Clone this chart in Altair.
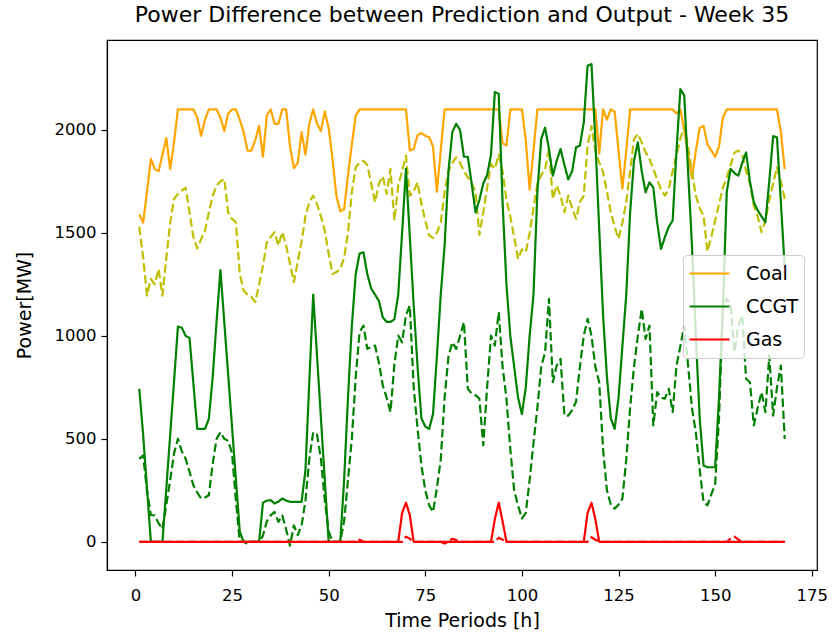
import altair as alt
import pandas as pd

hours = list(range(1, 169))

coal_actual = [
    1590, 1550, 1700, 1860, 1810, 1800, 1880, 1960, 1810, 1940,
    2100, 2100, 2100, 2100, 2100, 2060, 1972, 2050, 2100, 2100,
    2100, 2060, 1995, 2080, 2100, 2100, 2050, 1990, 1900, 1900,
    1950, 2020, 1870, 2070, 2100, 2030, 2030, 2100, 2100, 1920,
    1815, 1840, 1990, 1880, 2030, 2100, 2030, 1995, 2090, 2010,
    1860, 1680, 1605, 1615, 1780, 1930, 2070, 2100, 2100, 2100,
    2100, 2100, 2100, 2100, 2100, 2100, 2100, 2100, 2100, 2100,
    1900, 1908, 1975, 1985, 1972, 1965, 1920, 1700, 1900, 2100,
    2100, 2100, 2100, 2100, 2100, 2100, 2100, 2100, 2100, 2100,
    2100, 2100, 2100, 2100, 1935, 1925, 2100, 2100, 2100, 2100,
    1950, 1710, 1900, 2100, 2100, 2100, 2100, 2100, 2100, 2100,
    2100, 2100, 2100, 2100, 2100, 2100, 2100, 2100, 2100, 1885,
    2100, 2050, 2100, 2090, 1900, 1715, 1900, 2100, 2100, 2100,
    2100, 2100, 2100, 2100, 2100, 2100, 2100, 2100, 2100, 2080,
    2100, 2000, 1880, 1765, 1900, 2010, 2020, 1930, 1900, 1870,
    1920, 2060, 2100, 2100, 2100, 2100, 2100, 2100, 2100, 2100,
    2100, 2100, 2100, 2100, 2100, 2100, 1990, 1810,
]

coal_pred = [
    1530, 1380, 1196, 1277, 1250, 1325, 1196, 1380, 1550, 1665,
    1690, 1705, 1720, 1600, 1480, 1425, 1470, 1510, 1600, 1680,
    1730, 1750, 1762, 1600, 1568, 1552, 1300, 1220, 1200, 1190,
    1164, 1250, 1340, 1455, 1480, 1504, 1439, 1504, 1439, 1350,
    1261, 1360, 1460, 1580, 1650, 1681, 1640, 1580, 1510, 1400,
    1300, 1310, 1325, 1380, 1500, 1700, 1819, 1840, 1851, 1830,
    1740, 1650, 1740, 1775, 1690, 1811, 1560, 1730, 1800, 1875,
    1680, 1700, 1746, 1640, 1560, 1488, 1475, 1500, 1550, 1700,
    1800, 1840, 1867, 1840, 1800, 1770, 1740, 1700, 1490, 1600,
    1720, 1835, 1811, 1880, 1800, 1660, 1580, 1480, 1374, 1420,
    1406, 1500, 1620, 1740, 1780, 1810, 1908, 1665, 1730, 1680,
    1600, 1681, 1620, 1568, 1649, 1681, 1924, 2019, 1900, 1843,
    1795, 1700, 1600, 1530, 1471, 1550, 1650, 1800, 1956, 1981,
    1940, 1891, 1860, 1810, 1760, 1710, 1681, 1713, 1800, 1880,
    1956, 2019, 1920, 1800, 1680, 1620, 1584, 1410, 1480, 1560,
    1640, 1720, 1770, 1830, 1890, 1900, 1880, 1800, 1740, 1632,
    1580, 1504, 1560, 1660, 1740, 1819, 1750, 1665,
]

ccgt_actual = [
    743, 520, 260, 0, 0, 0, 0, 260, 520, 780,
    1045, 1040, 1000, 990, 770, 548, 548, 548, 597, 800,
    1070, 1320, 1066, 812, 558, 304, 50, 0, 0, 0,
    0, 0, 190, 200, 202, 186, 195, 210, 200, 194,
    194, 194, 194, 350, 780, 1200, 900, 600, 300, 0,
    0, 0, 0, 300, 700, 1050, 1300, 1400, 1406, 1300,
    1230, 1200, 1170, 1090, 1068, 1068, 1080, 1200, 1500, 1811,
    1480, 1150, 850, 600, 560, 548, 620, 900, 1200, 1438,
    1800, 1990, 2030, 2000, 1870, 1870, 1740, 1600, 1660, 1740,
    1780, 1880, 2184, 2176, 1650, 1250, 1000, 850, 700, 620,
    750, 1000, 1200, 1700, 1956, 2011, 1908, 1778, 1850, 1908,
    1830, 1760, 1800, 1916, 1924, 2036, 2312, 2320, 1950, 1520,
    1100, 800, 600, 548, 700, 950, 1200, 1600, 1850, 1940,
    1800, 1697, 1746, 1720, 1550, 1422, 1480, 1530, 1560, 1900,
    2199, 2167, 1800, 1438, 1000, 600, 370, 362, 362, 362,
    700, 1131, 1700, 1811, 1790, 1778, 1840, 1891, 1750, 1649,
    1610, 1580, 1552, 1750, 1970, 1964, 1650, 1330,
]

ccgt_pred = [
    403, 420, 250, 130, 128, 90, 63, 180, 300, 430,
    500, 440, 403, 340, 275, 240, 210, 215, 226, 380,
    500, 532, 500, 490, 430, 200, 0, 0, -10, 0,
    0, 0, 30, 100, 128, 145, 97, 128, 60, -19,
    80, 32, 80, 200, 403, 532, 520, 403, 200, 50,
    0, 0, 0, 100, 300, 500, 800, 1018, 1050, 937,
    945, 953, 870, 760, 700, 630, 860, 1001, 969, 1100,
    1147, 750, 550, 371, 250, 177, 145, 260, 400, 700,
    900, 969, 937, 1000, 1067, 743, 720, 712, 695, 468,
    750, 1001, 953, 1115, 850, 695, 450, 250, 177, 113,
    140, 300, 480, 650, 850, 921, 1180, 775, 856, 888,
    613, 613, 640, 680, 850, 1000, 1083, 1001, 850, 775,
    450, 250, 180, 161, 180, 210, 400, 650, 850, 1000,
    1131, 985, 1050, 565, 727, 700, 695, 743, 630, 856,
    950, 1050, 856, 650, 532, 350, 193, 177, 230, 280,
    600, 1150, 1180, 1147, 921, 1050, 1099, 792, 775, 565,
    650, 727, 630, 905, 613, 750, 856, 500,
]

gas_actual = [
    0, 0, 0, 0, 0, 0, 0, 0, 0, 0,
    0, 0, 0, 0, 0, 0, 0, 0, 0, 0,
    0, 0, 0, 0, 0, 0, 0, 0, 0, 0,
    0, 0, 0, 0, 0, 0, 0, 0, 0, 0,
    0, 0, 0, 0, 0, 0, 0, 0, 0, 0,
    0, 0, 0, 0, 0, 0, 0, 0, 0, 0,
    0, 0, 0, 0, 0, 0, 0, 0, 140, 190,
    130, 0, 0, 0, 0, 0, 0, 0, 0, 0,
    0, 0, 0, 0, 0, 0, 0, 0, 0, 0,
    0, 0, 110, 190, 100, 0, 0, 0, 0, 0,
    0, 0, 0, 0, 0, 0, 0, 0, 0, 0,
    0, 0, 0, 0, 0, 0, 140, 190, 110, 0,
    0, 0, 0, 0, 0, 0, 0, 0, 0, 0,
    0, 0, 0, 0, 0, 0, 0, 0, 0, 0,
    0, 0, 0, 0, 0, 0, 0, 0, 0, 0,
    0, 0, 0, 0, 0, 0, 0, 0, 0, 0,
    0, 0, 0, 0, 0, 0, 0, 0,
]

gas_pred = [
    0, 0, 0, 0, 0, 0, 0, 0, 0, 0,
    0, 0, 0, 0, 0, 0, 0, 0, 0, 0,
    0, 0, 0, 0, 0, 0, 0, 0, 0, 0,
    0, 0, 0, 0, 0, 0, 0, 0, 0, 0,
    0, 0, 0, 0, 0, 0, 0, 0, 0, 0,
    0, 0, 0, 0, 0, 0, 0, 10, 0, 0,
    0, 0, 0, 0, 0, 0, 0, 0, 0, 25,
    15, 0, 0, 0, 0, 0, 0, 0, 0, -8,
    0, 15, 8, 0, 0, 0, 0, 0, 0, 0,
    0, 0, 0, 20, 10, 0, 0, 0, 0, 0,
    0, 0, 0, 0, 0, 0, 0, 0, 0, 0,
    0, 0, 0, 0, 0, 0, 0, 22, 10, 0,
    0, 0, 0, 0, 0, 0, 0, 0, 0, 0,
    0, 0, 0, 0, 0, 0, 0, 0, 0, 0,
    0, 0, 0, 0, 0, 0, 0, 0, 0, 0,
    0, 0, 0, 15, 25, 10, 0, 0, 0, 0,
    0, 0, 0, 0, 0, 0, 0, 0,
]

x_ticks = [0, 25, 50, 75, 100, 125, 150, 175]
y_ticks = [0, 500, 1000, 1500, 2000]
legend_entries = ["Coal", "CCGT", "Gas"]
series_keys = ["Coal", "Coal pred", "CCGT", "CCGT pred", "Gas", "Gas pred"]
series_colors = ["#ffa500", "#bfbf00", "#008000", "#008000", "#ff0000", "#ff0000"]

series = [
    ("Coal", "actual", coal_actual),
    ("Coal pred", "pred", coal_pred),
    ("CCGT", "actual", ccgt_actual),
    ("CCGT pred", "pred", ccgt_pred),
    ("Gas", "actual", gas_actual),
    ("Gas pred", "pred", gas_pred),
]

rows = []
for key, kind, vals in series:
    for h, v in zip(hours, vals):
        rows.append({"hour": h, "value": v, "key": key, "kind": kind})
df = pd.DataFrame(rows)

FONT = "DejaVu Sans"

chart = (
    alt.Chart(df)
    .mark_line(strokeWidth=2.2, strokeJoin="round", strokeCap="butt")
    .encode(
        x=alt.X(
            "hour:Q",
            scale=alt.Scale(domain=[-7.35, 176.35], nice=False, zero=False),
            axis=alt.Axis(values=x_ticks, title="Time Periods [h]", format="d",
                          labelPadding=11, titlePadding=8),
        ),
        y=alt.Y(
            "value:Q",
            scale=alt.Scale(domain=[-137, 2437], nice=False, zero=False),
            axis=alt.Axis(values=y_ticks, title="Power[MW]", format="d",
                          labelPadding=5, titlePadding=20),
        ),
        color=alt.Color(
            "key:N",
            scale=alt.Scale(domain=series_keys, range=series_colors),
            legend=alt.Legend(
                values=legend_entries,
                title=None,
                orient="none",
                legendX=576,
                legendY=215,
                symbolType="stroke",
                symbolSize=1600,
                symbolStrokeWidth=2.2,
                clipHeight=27,
                rowPadding=6,
                labelFont=FONT,
                labelFontSize=19,
                labelColor="black",
                labelOffset=15,
                padding=5,
                fillColor="rgba(255,255,255,0.8)",
                strokeColor="#cccccc",
                cornerRadius=4,
            ),
        ),
        strokeDash=alt.StrokeDash(
            "kind:N",
            scale=alt.Scale(domain=["actual", "pred"], range=[[1, 0], [8.5, 3.7]]),
            legend=None,
        ),
    )
    .properties(
        width=710,
        height=530,
        autosize=alt.AutoSizeParams(type="none"),
        padding={"left": 107, "top": 40, "right": 17, "bottom": 63},
        title=alt.TitleParams(
            "Power Difference between Prediction and Output - Week 35",
            font=FONT,
            fontSize=22,
            fontWeight="normal",
            color="black",
            anchor="middle",
            offset=13,
        ),
    )
    .configure_view(stroke="black", strokeWidth=1.2)
    .configure_axis(
        grid=False,
        domainColor="black",
        domainWidth=1.2,
        tickColor="black",
        tickWidth=1.2,
        tickSize=6,
        labelFont=FONT,
        labelFontSize=16.5,
        labelColor="black",
        titleFont=FONT,
        titleFontSize=19,
        titleFontWeight="normal",
        titleColor="black",
    )
)

chart.save("out.html", embed_options={"renderer": "svg", "actions": False})
